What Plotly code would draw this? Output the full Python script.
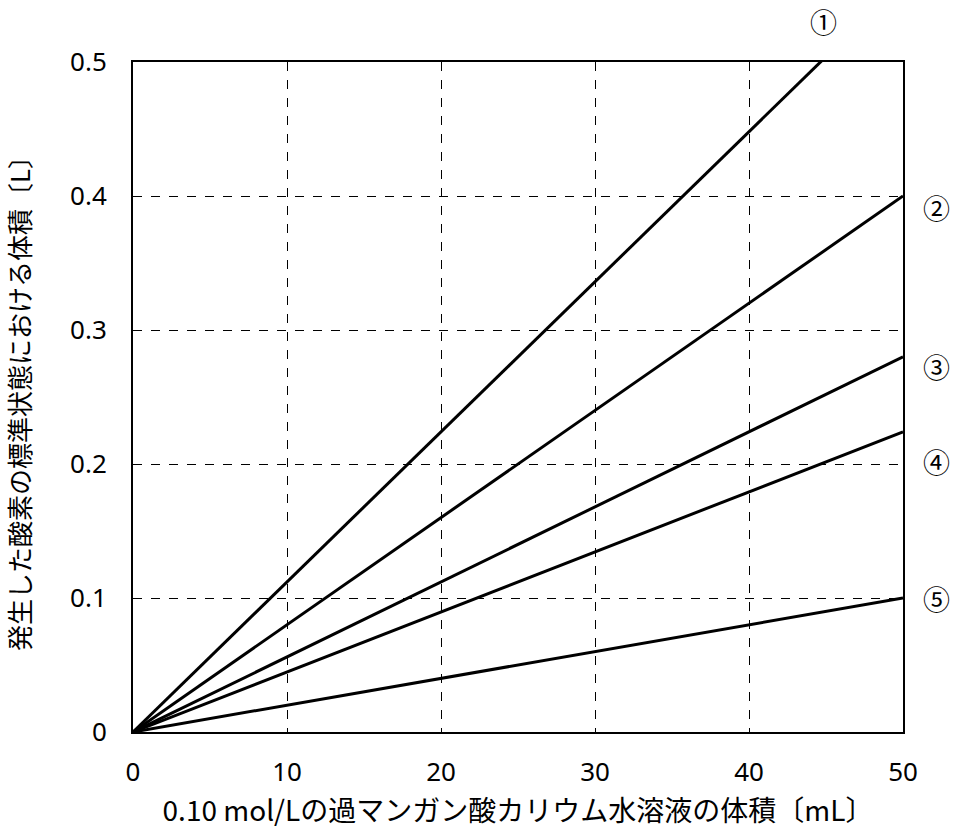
import plotly.graph_objects as go

x_vals = [0, 50]
series = {
    "①": [0, 0.56],
    "②": [0, 0.40],
    "③": [0, 0.28],
    "④": [0, 0.224],
    "⑤": [0, 0.10],
}
# label positions in paper coordinates (fraction of plot area)
label_pos = {
    "①": (0.897, 1.06),
    "②": (1.044, 0.783),
    "③": (1.044, 0.546),
    "④": (1.044, 0.404),
    "⑤": (1.044, 0.2),
}
x_ticks = [0, 10, 20, 30, 40, 50]
y_ticks = [0, 0.1, 0.2, 0.3, 0.4, 0.5]
y_tick_text = ["0", "0.1", "0.2", "0.3", "0.4", "0.5"]

fig = go.Figure()
for name, ys in series.items():
    fig.add_trace(go.Scatter(x=x_vals, y=ys, mode="lines",
                             line=dict(color="black", width=3), showlegend=False, name=name))

for name, (lx, ly) in label_pos.items():
    fig.add_annotation(x=lx, y=ly, text=name, showarrow=False, xref="paper", yref="paper",
                       font=dict(family="Noto Sans CJK JP", size=27, color="black"),
                       xanchor="center", yanchor="middle")

font_main = "Noto Sans CJK JP"
fig.update_layout(
    width=968, height=830,
    margin=dict(l=133, r=65, t=62, b=98),
    paper_bgcolor="white", plot_bgcolor="white",
    font=dict(family=font_main, color="black", size=18),
    xaxis=dict(range=[0, 50], tickvals=x_ticks, showline=True, linecolor="black", linewidth=2,
               mirror=True, showgrid=True, gridcolor="black", griddash="dash", gridwidth=1,
               zeroline=False, ticks="", tickfont=dict(family="Noto Sans", size=26),
               ticklabelstandoff=16,
               title=dict(text="0.10 mol/Lの過マンガン酸カリウム水溶液の体積〔mL〕",
                          font=dict(size=28), standoff=8)),
    yaxis=dict(range=[0, 0.5], tickvals=y_ticks, ticktext=y_tick_text, showline=True,
               linecolor="black", linewidth=2, mirror=True, showgrid=True, gridcolor="black",
               griddash="dash", gridwidth=1, zeroline=False, ticks="",
               tickfont=dict(family="Noto Sans", size=26),
               ticklabelstandoff=19,
               title=dict(text="発生した酸素の標準状態における体積〔L〕", font=dict(size=26), standoff=32)),
)
fig.write_html("out.html")
